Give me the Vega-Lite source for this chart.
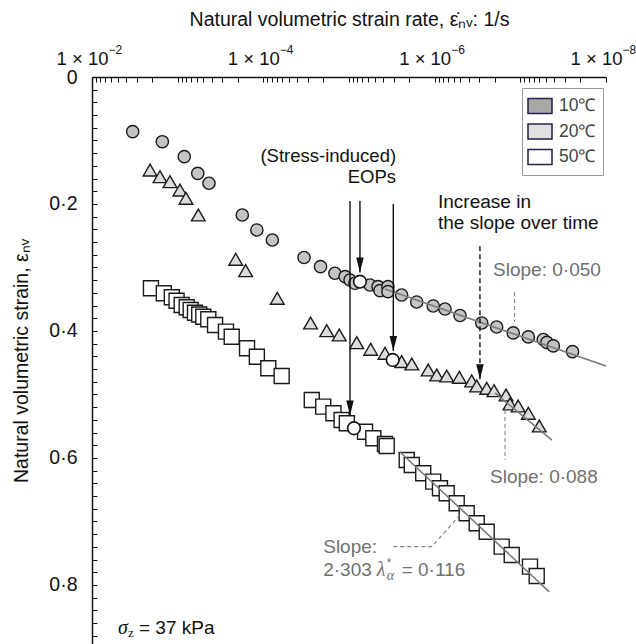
{
  "$schema": "https://vega.github.io/schema/vega-lite/v6.json",
  "width": 514,
  "height": 567,
  "autosize": {"type": "none"},
  "padding": {"left": 92, "top": 77, "right": 30, "bottom": 0},
  "background": "white",
  "config": {
    "view": {"stroke": null},
    "font": "Liberation Sans",
    "axis": {"labelFont": "Liberation Sans", "titleFont": "Liberation Sans", "labelColor": "#111", "titleColor": "#111", "grid": false, "domainColor": "#111", "domainWidth": 1.5, "tickColor": "#111", "tickWidth": 1, "titleFontWeight": "normal"}
  },
  "encoding": {
    "x": {
      "field": "rate", "type": "quantitative",
      "scale": {"type": "log", "domain": [1e-8, 0.01], "reverse": true, "nice": false},
      "axis": {
        "orient": "top",
        "title": "Natural volumetric strain rate, ε̇ₙᵥ: 1/s",
        "titleFontSize": 19.5, "titlePadding": 20,
        "values": [1e-8, 2e-8, 3e-8, 4e-8, 5e-8, 6e-8, 7e-8, 8e-8, 9e-8, 1e-7, 2e-7, 3e-7, 4e-7, 5e-7, 6e-7, 7e-7, 8e-7, 9e-7, 1e-6, 2e-6, 3e-6, 4e-6, 5e-6, 6e-6, 7e-6, 8e-6, 9e-6, 1e-5, 2e-5, 3e-5, 4e-5, 5e-5, 6e-5, 7e-5, 8e-5, 9e-5, 1e-4, 2e-4, 3e-4, 4e-4, 5e-4, 6e-4, 7e-4, 8e-4, 9e-4, 1e-3, 2e-3, 3e-3, 4e-3, 5e-3, 6e-3, 7e-3, 8e-3, 9e-3, 1e-2],
        "labelExpr": "abs(datum.value / pow(10, round(log(datum.value)/LN10)) - 1) < 0.01 && round(log(datum.value)/LN10) % 2 == 0 ? '1 × 10' : ''",
        "labelFontSize": 18.5, "labelPadding": 14, "labelOffset": -10, "labelFlush": false, "labelOverlap": false, "labelBound": false,
        "tickSize": -5
      }
    },
    "y": {
      "field": "strain", "type": "quantitative",
      "scale": {"domain": [0, 0.893], "reverse": true, "nice": false, "zero": false},
      "axis": {
        "title": "Natural volumetric strain, εₙᵥ",
        "titleFontSize": 19.5, "titlePadding": 17,
        "values": [0, 0.02, 0.04, 0.06, 0.08, 0.1, 0.12, 0.14, 0.16, 0.18, 0.2, 0.22, 0.24, 0.26, 0.28, 0.3, 0.32, 0.34, 0.36, 0.38, 0.4, 0.42, 0.44, 0.46, 0.48, 0.5, 0.52, 0.54, 0.56, 0.58, 0.6, 0.62, 0.64, 0.66, 0.68, 0.7, 0.72, 0.74, 0.76, 0.78, 0.8, 0.82, 0.84, 0.86, 0.88],
        "labelExpr": "abs(datum.value*5 - round(datum.value*5)) < 0.001 ? (datum.value == 0 ? '0' : replace(format(datum.value, '.1f'), '.', '·')) : ''",
        "labelFontSize": 19.5, "labelPadding": 20, "labelOverlap": false, "labelBound": false, "labelFlush": false,
        "tickSize": -5
      }
    }
  },
  "layer": [
    {
      "resolve": {"scale": {"fill": "independent"}},
      "layer": [
        {
          "data": {"values": [
            {"temp": "10℃", "rate": 3.35e-3, "strain": 0.0861},
            {"temp": "10℃", "rate": 1.51e-3, "strain": 0.1019},
            {"temp": "10℃", "rate": 8.37e-4, "strain": 0.1255},
            {"temp": "10℃", "rate": 5.83e-4, "strain": 0.1517},
            {"temp": "10℃", "rate": 4.31e-4, "strain": 0.1674},
            {"temp": "10℃", "rate": 1.76e-4, "strain": 0.2173},
            {"temp": "10℃", "rate": 1.19e-4, "strain": 0.2409},
            {"temp": "10℃", "rate": 7.85e-5, "strain": 0.2567},
            {"temp": "10℃", "rate": 3.35e-5, "strain": 0.2843},
            {"temp": "10℃", "rate": 2.15e-5, "strain": 0.2987},
            {"temp": "10℃", "rate": 1.46e-5, "strain": 0.3091},
            {"temp": "10℃", "rate": 1.11e-5, "strain": 0.3145},
            {"temp": "10℃", "rate": 9.73e-6, "strain": 0.3197},
            {"temp": "10℃", "rate": 8.51e-6, "strain": 0.3249},
            {"temp": "10℃", "rate": 5.69e-6, "strain": 0.3276},
            {"temp": "10℃", "rate": 4.58e-6, "strain": 0.3302},
            {"temp": "10℃", "rate": 4.35e-6, "strain": 0.3365},
            {"temp": "10℃", "rate": 3.51e-6, "strain": 0.3302},
            {"temp": "10℃", "rate": 3.51e-6, "strain": 0.3381},
            {"temp": "10℃", "rate": 2.43e-6, "strain": 0.3433},
            {"temp": "10℃", "rate": 1.62e-6, "strain": 0.3543},
            {"temp": "10℃", "rate": 1.04e-6, "strain": 0.3606},
            {"temp": "10℃", "rate": 7.57e-7, "strain": 0.3654},
            {"temp": "10℃", "rate": 5.06e-7, "strain": 0.3756},
            {"temp": "10℃", "rate": 2.82e-7, "strain": 0.3874},
            {"temp": "10℃", "rate": 1.89e-7, "strain": 0.3937},
            {"temp": "10℃", "rate": 1.21e-7, "strain": 0.4031},
            {"temp": "10℃", "rate": 8.07e-8, "strain": 0.4094},
            {"temp": "10℃", "rate": 5.40e-8, "strain": 0.4135},
            {"temp": "10℃", "rate": 4.89e-8, "strain": 0.4180},
            {"temp": "10℃", "rate": 4.12e-8, "strain": 0.4235},
            {"temp": "10℃", "rate": 2.46e-8, "strain": 0.4326},
            {"temp": "20℃", "rate": 2.10e-3, "strain": 0.1465},
            {"temp": "20℃", "rate": 1.61e-3, "strain": 0.1570},
            {"temp": "20℃", "rate": 1.23e-3, "strain": 0.1649},
            {"temp": "20℃", "rate": 9.40e-4, "strain": 0.1780},
            {"temp": "20℃", "rate": 8.00e-4, "strain": 0.1910},
            {"temp": "20℃", "rate": 5.74e-4, "strain": 0.2173},
            {"temp": "20℃", "rate": 2.10e-4, "strain": 0.2871},
            {"temp": "20℃", "rate": 1.61e-4, "strain": 0.3050},
            {"temp": "20℃", "rate": 6.87e-5, "strain": 0.3485},
            {"temp": "20℃", "rate": 2.81e-5, "strain": 0.3874},
            {"temp": "20℃", "rate": 1.82e-5, "strain": 0.3995},
            {"temp": "20℃", "rate": 1.30e-5, "strain": 0.4063},
            {"temp": "20℃", "rate": 8.13e-6, "strain": 0.4184},
            {"temp": "20℃", "rate": 5.58e-6, "strain": 0.4288},
            {"temp": "20℃", "rate": 3.80e-6, "strain": 0.4351},
            {"temp": "20℃", "rate": 2.43e-6, "strain": 0.4483},
            {"temp": "20℃", "rate": 1.85e-6, "strain": 0.4520},
            {"temp": "20℃", "rate": 1.19e-6, "strain": 0.4614},
            {"temp": "20℃", "rate": 9.46e-7, "strain": 0.4693},
            {"temp": "20℃", "rate": 7.24e-7, "strain": 0.4709},
            {"temp": "20℃", "rate": 5.15e-7, "strain": 0.4729},
            {"temp": "20℃", "rate": 3.70e-7, "strain": 0.4787},
            {"temp": "20℃", "rate": 3.23e-7, "strain": 0.4866},
            {"temp": "20℃", "rate": 2.47e-7, "strain": 0.4902},
            {"temp": "20℃", "rate": 2.03e-7, "strain": 0.4940},
            {"temp": "20℃", "rate": 1.47e-7, "strain": 0.5008},
            {"temp": "20℃", "rate": 1.32e-7, "strain": 0.5150},
            {"temp": "20℃", "rate": 1.06e-7, "strain": 0.5181},
            {"temp": "20℃", "rate": 8.07e-8, "strain": 0.5296},
            {"temp": "20℃", "rate": 6.01e-8, "strain": 0.5496},
            {"temp": "50℃", "rate": 2.05e-3, "strain": 0.3328},
            {"temp": "50℃", "rate": 1.45e-3, "strain": 0.3406},
            {"temp": "50℃", "rate": 1.17e-3, "strain": 0.3469},
            {"temp": "50℃", "rate": 1.03e-3, "strain": 0.3523},
            {"temp": "50℃", "rate": 8.98e-4, "strain": 0.3591},
            {"temp": "50℃", "rate": 7.85e-4, "strain": 0.3627},
            {"temp": "50℃", "rate": 7.05e-4, "strain": 0.3669},
            {"temp": "50℃", "rate": 6.28e-4, "strain": 0.3712},
            {"temp": "50℃", "rate": 5.60e-4, "strain": 0.3740},
            {"temp": "50℃", "rate": 5.02e-4, "strain": 0.3775},
            {"temp": "50℃", "rate": 4.39e-4, "strain": 0.3816},
            {"temp": "50℃", "rate": 3.66e-4, "strain": 0.3906},
            {"temp": "50℃", "rate": 2.73e-4, "strain": 0.4011},
            {"temp": "50℃", "rate": 2.34e-4, "strain": 0.4090},
            {"temp": "50℃", "rate": 1.55e-4, "strain": 0.4272},
            {"temp": "50℃", "rate": 1.19e-4, "strain": 0.4405},
            {"temp": "50℃", "rate": 8.75e-5, "strain": 0.4587},
            {"temp": "50℃", "rate": 6.11e-5, "strain": 0.4709},
            {"temp": "50℃", "rate": 2.72e-5, "strain": 0.5087},
            {"temp": "50℃", "rate": 2.00e-5, "strain": 0.5192},
            {"temp": "50℃", "rate": 1.52e-5, "strain": 0.5296},
            {"temp": "50℃", "rate": 1.22e-5, "strain": 0.5402},
            {"temp": "50℃", "rate": 1.06e-5, "strain": 0.5454},
            {"temp": "50℃", "rate": 6.50e-6, "strain": 0.5586},
            {"temp": "50℃", "rate": 5.20e-6, "strain": 0.5690},
            {"temp": "50℃", "rate": 3.80e-6, "strain": 0.5780},
            {"temp": "50℃", "rate": 3.63e-6, "strain": 0.5811},
            {"temp": "50℃", "rate": 2.12e-6, "strain": 0.6031},
            {"temp": "50℃", "rate": 1.85e-6, "strain": 0.6110},
            {"temp": "50℃", "rate": 1.36e-6, "strain": 0.6241},
            {"temp": "50℃", "rate": 1.04e-6, "strain": 0.6373},
            {"temp": "50℃", "rate": 8.67e-7, "strain": 0.6477},
            {"temp": "50℃", "rate": 7.24e-7, "strain": 0.6556},
            {"temp": "50℃", "rate": 5.53e-7, "strain": 0.6713},
            {"temp": "50℃", "rate": 4.23e-7, "strain": 0.6871},
            {"temp": "50℃", "rate": 3.23e-7, "strain": 0.7028},
            {"temp": "50℃", "rate": 2.47e-7, "strain": 0.7161},
            {"temp": "50℃", "rate": 1.65e-7, "strain": 0.7397},
            {"temp": "50℃", "rate": 1.26e-7, "strain": 0.7528},
            {"temp": "50℃", "rate": 7.71e-8, "strain": 0.7712},
            {"temp": "50℃", "rate": 6.44e-8, "strain": 0.7858}
          ]},
          "mark": {"type": "point", "filled": true, "stroke": "#1a1a1a", "strokeWidth": 1.4, "opacity": 1},
          "encoding": {
            "fill": {"field": "temp", "type": "nominal", "scale": {"domain": ["10℃", "20℃", "50℃"], "range": ["#c4c4c4", "#dcdcdc", "#ffffff"]}, "legend": null},
            "shape": {"field": "temp", "type": "nominal", "scale": {"domain": ["10℃", "20℃", "50℃"], "range": ["circle", "triangle-up", "square"]}, "legend": null},
            "size": {"field": "temp", "type": "ordinal", "scale": {"domain": ["10℃", "20℃", "50℃"], "range": [150, 225, 190]}, "legend": null}
          }
        },
        {
          "data": {"values": [
            {"rate": 7.45e-6, "strain": 0.3224},
            {"rate": 3.09e-6, "strain": 0.4457},
            {"rate": 8.75e-6, "strain": 0.5532}
          ]},
          "mark": {"type": "point", "shape": "circle", "filled": true, "fill": "white", "stroke": "#111", "strokeWidth": 1.6, "size": 160, "opacity": 1}
        },
        {
          "data": {"values": [
            {"temp": "10℃", "rate": 3.80e-6, "strain": 0.3339},
            {"temp": "10℃", "rate": 1e-8, "strain": 0.4551},
            {"temp": "20℃", "rate": 1.98e-7, "strain": 0.4976},
            {"temp": "20℃", "rate": 4.27e-8, "strain": 0.5720},
            {"temp": "50℃", "rate": 2.54e-6, "strain": 0.5906},
            {"temp": "50℃", "rate": 4.59e-8, "strain": 0.8110}
          ]},
          "mark": {"type": "line", "color": "#7a7a7a", "strokeWidth": 1.6},
          "encoding": {"detail": {"field": "temp", "type": "nominal"}}
        },
        {
          "data": {"values": [
            {"g": "a", "o": 1, "rate": 1.17e-7, "strain": 0.3386},
            {"g": "a", "o": 2, "rate": 1.17e-7, "strain": 0.3858},
            {"g": "b", "o": 1, "rate": 1.51e-7, "strain": 0.5244},
            {"g": "b", "o": 2, "rate": 1.51e-7, "strain": 0.6031},
            {"g": "c", "o": 1, "rate": 3.04e-6, "strain": 0.7397},
            {"g": "c", "o": 2, "rate": 1.08e-6, "strain": 0.7397},
            {"g": "c", "o": 3, "rate": 5.06e-7, "strain": 0.6898}
          ]},
          "mark": {"type": "line", "color": "#808080", "strokeWidth": 1.1, "strokeDash": [4, 3]},
          "encoding": {"detail": {"field": "g", "type": "nominal"}, "order": {"field": "o", "type": "quantitative"}}
        },
        {
          "data": {"values": [
            {"rate": 9.73e-6, "strain": 0.533, "top": 0.1953},
            {"rate": 7.45e-6, "strain": 0.308, "top": 0.1953},
            {"rate": 3.04e-6, "strain": 0.4315, "top": 0.2}
          ]},
          "layer": [
            {"mark": {"type": "rule", "color": "#111", "strokeWidth": 1.4}, "encoding": {"y2": {"field": "top"}}},
            {"mark": {"type": "point", "shape": "M0,0L-0.25,-1L0.25,-1Z", "size": 900, "filled": true, "color": "#111", "opacity": 1}}
          ]
        },
        {
          "data": {"values": [
            {"rate": 2.96e-7, "strain": 0.476, "top": 0.2646}
          ]},
          "layer": [
            {"mark": {"type": "rule", "color": "#111", "strokeWidth": 1.4, "strokeDash": [5, 3]}, "encoding": {"y2": {"field": "top"}}},
            {"mark": {"type": "point", "shape": "M0,0L-0.25,-1L0.25,-1Z", "size": 900, "filled": true, "color": "#111", "opacity": 1}}
          ]
        },
        {
          "data": {"values": [
            {"rate": 2.82e-6, "strain": 0.1244, "label": "(Stress-induced)"},
            {"rate": 2.82e-6, "strain": 0.1575, "label": "EOPs"}
          ]},
          "mark": {"type": "text", "align": "right", "baseline": "middle", "fontSize": 18.5, "color": "#111"},
          "encoding": {"text": {"field": "label"}}
        },
        {
          "data": {"values": [
            {"rate": 9.14e-7, "strain": 0.1964, "label": "Increase in"},
            {"rate": 9.14e-7, "strain": 0.2294, "label": "the slope over time"},
            {"rate": 2.83e-3, "strain": 0.8677, "label": "= 37 kPa"}
          ]},
          "mark": {"type": "text", "align": "left", "baseline": "middle", "fontSize": 19, "color": "#111"},
          "encoding": {"text": {"field": "label"}}
        },
        {
          "data": {"values": [
            {"rate": 4.97e-3, "strain": 0.8677, "label": "σ"}
          ]},
          "mark": {"type": "text", "align": "left", "baseline": "middle", "fontSize": 20, "font": "Liberation Serif", "fontStyle": "italic", "color": "#111"},
          "encoding": {"text": {"field": "label"}}
        },
        {
          "data": {"values": [
            {"rate": 3.80e-3, "strain": 0.8677, "label": "z"}
          ]},
          "mark": {"type": "text", "align": "left", "baseline": "middle", "fontSize": 13, "font": "Liberation Serif", "dy": 5, "color": "#111"},
          "encoding": {"text": {"field": "label"}}
        },
        {
          "data": {"values": [
            {"rate": 2.08e-7, "strain": 0.3039, "label": "Slope: 0·050"},
            {"rate": 2.26e-7, "strain": 0.6294, "label": "Slope: 0·088"},
            {"rate": 2.00e-5, "strain": 0.7397, "label": "Slope:"},
            {"rate": 2.00e-5, "strain": 0.7764, "label": "2·303"},
            {"rate": 2.43e-6, "strain": 0.7764, "label": "= 0·116"}
          ]},
          "mark": {"type": "text", "align": "left", "baseline": "middle", "fontSize": 19, "color": "#707070"},
          "encoding": {"text": {"field": "label"}}
        },
        {
          "data": {"values": [
            {"rate": 4.75e-6, "strain": 0.7764, "label": "λ"}
          ]},
          "mark": {"type": "text", "align": "left", "baseline": "middle", "fontSize": 20, "font": "Liberation Serif", "fontStyle": "italic", "color": "#707070"},
          "encoding": {"text": {"field": "label"}}
        },
        {
          "data": {"values": [
            {"rate": 3.62e-6, "strain": 0.7764, "label": "*"}
          ]},
          "mark": {"type": "text", "align": "left", "baseline": "middle", "fontSize": 12, "dy": -7, "color": "#707070"},
          "encoding": {"text": {"field": "label"}}
        },
        {
          "data": {"values": [
            {"rate": 3.62e-6, "strain": 0.7764, "label": "α"}
          ]},
          "mark": {"type": "text", "align": "left", "baseline": "middle", "fontSize": 14, "font": "Liberation Serif", "fontStyle": "italic", "dy": 6, "color": "#707070"},
          "encoding": {"text": {"field": "label"}}
        },
        {
          "data": {"values": []},
          "mark": {"type": "point", "filled": true, "shape": "square", "stroke": "#22224a", "strokeWidth": 1.5},
          "encoding": {
            "fill": {
              "field": "temp", "type": "nominal",
              "scale": {"domain": ["10℃", "20℃", "50℃"], "range": ["#aaa7a7", "#e0e0e0", "#ffffff"]},
              "legend": {
                "orient": "none", "legendX": 430, "legendY": 11, "title": null,
                "symbolType": "M-1.2,-0.75H1.2V0.75H-1.2Z", "symbolSize": 400,
                "symbolStrokeColor": "#22224a", "symbolStrokeWidth": 1.5, "symbolOpacity": 1,
                "labelFont": "Liberation Sans", "labelFontSize": 17.5, "labelOffset": 8, "labelColor": "#444",
                "rowPadding": 3.5, "padding": 7, "strokeColor": "#999", "fillColor": "white"
              }
            }
          }
        }
      ]
    },
    {
      "data": {"values": []},
      "mark": {"type": "point"},
      "encoding": {
        "x": {
          "field": "rate", "type": "quantitative",
          "scale": {"type": "log", "domain": [1e-8, 0.01], "reverse": true, "nice": false},
          "axis": {
            "orient": "top", "title": null, "values": [1e-8, 1e-6, 1e-4, 1e-2],
            "labelExpr": "'−' + (-round(log(datum.value)/LN10))",
            "labelFontSize": 12, "labelAlign": "left", "labelOffset": 16, "labelPadding": 21, "labelColor": "#111",
            "ticks": false, "domain": false, "tickSize": -5, "labelFlush": false, "labelOverlap": false, "labelBound": false
          }
        }
      }
    }
  ],
  "resolve": {"axis": {"x": "independent"}}
}
